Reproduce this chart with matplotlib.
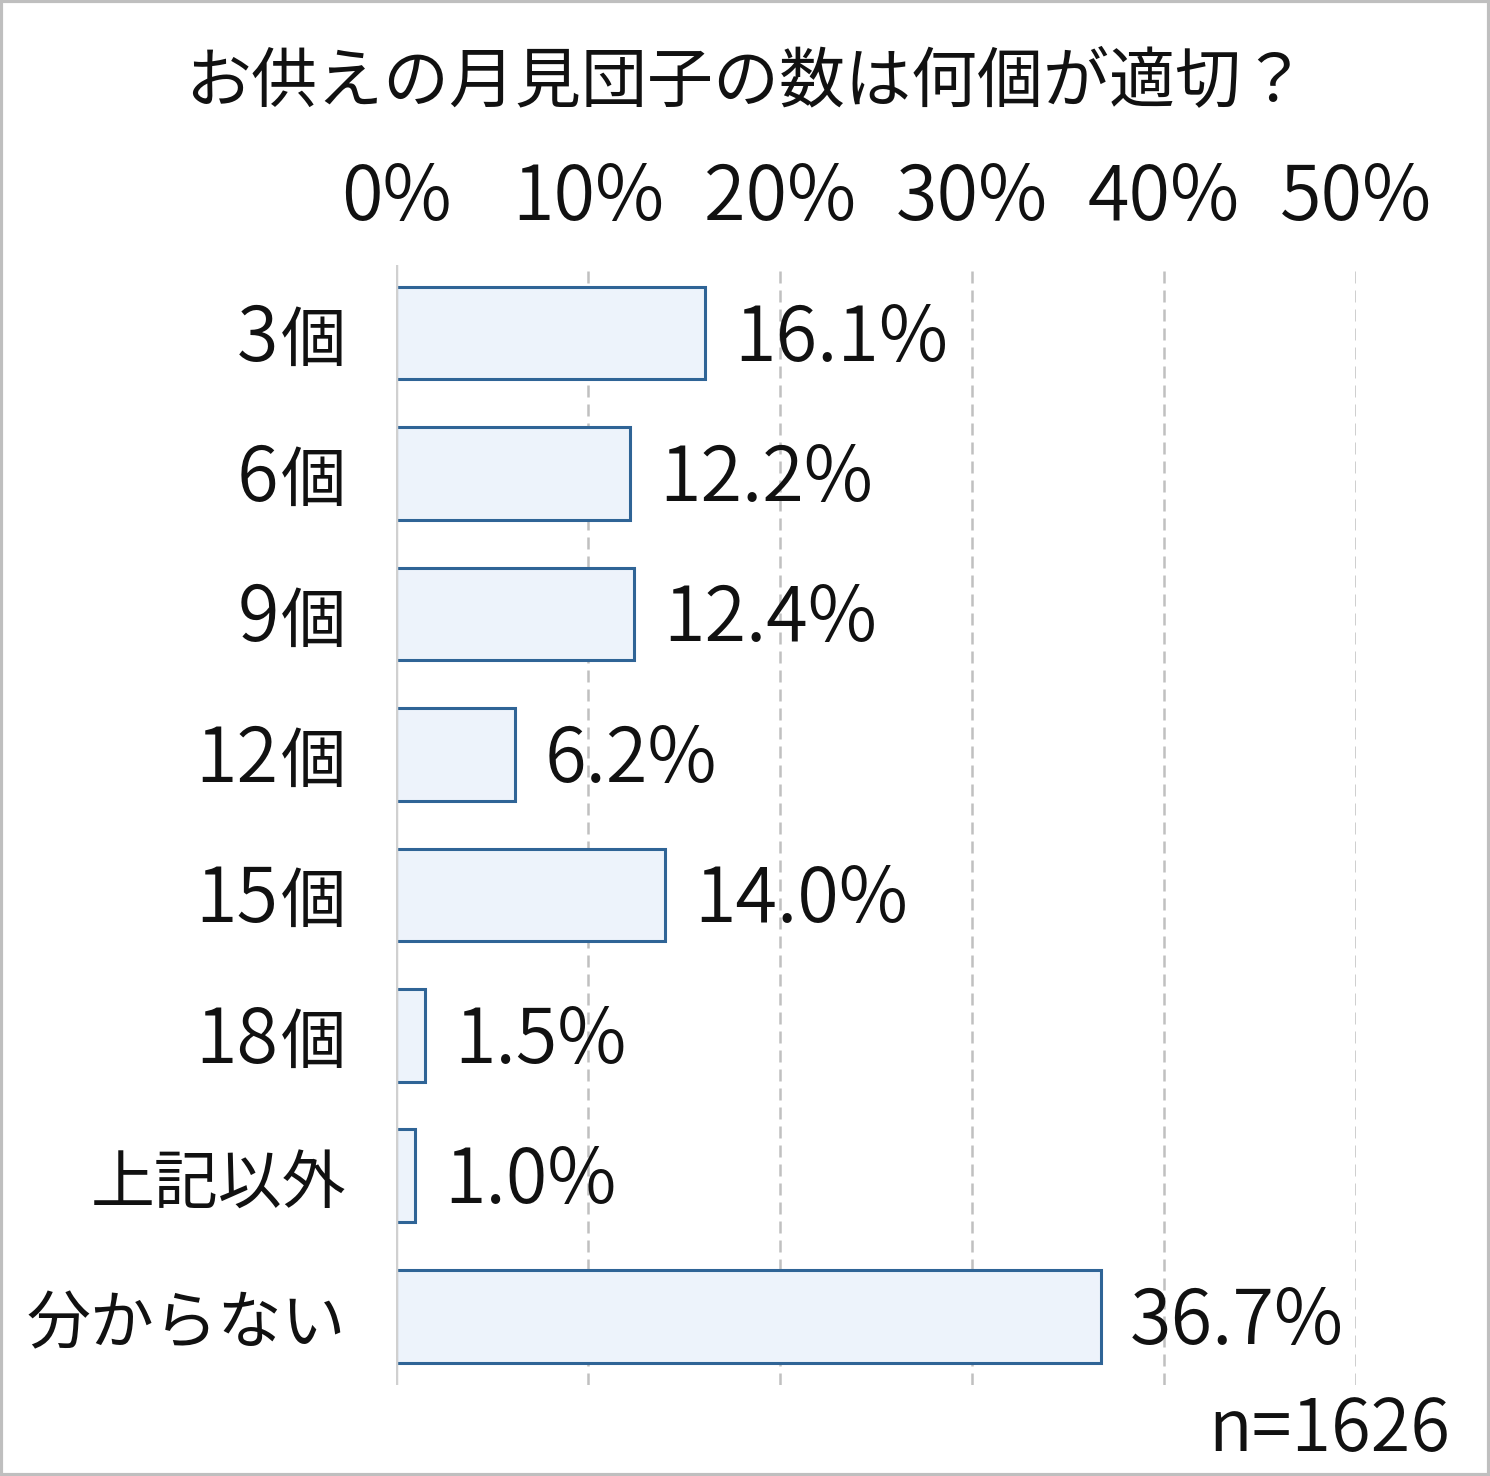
import matplotlib.pyplot as plt
from matplotlib.patches import Rectangle

plt.rcParams['font.family'] = ['Noto Sans CJK JP', 'DejaVu Sans']

# データ
categories = ['3個', '6個', '9個', '12個', '15個', '18個', '上記以外', '分からない']
values = [16.1, 12.2, 12.4, 6.2, 14.0, 1.5, 1.0, 36.7]
ticks = [0, 10, 20, 30, 40, 50]
title = 'お供えの月見団子の数は何個が適切？'
note = 'n=1626'

NUM_SIZE = 54.5  # 数字のフォントサイズ
KANJI_SIZE = 47  # 漢字・かなのフォントサイズ
BASE = -19.8     # 棒の中心からベースラインまでのずれ (pt)
NUM_W = 350      # 数字は少し細め
TXT_W = 'normal'

fig = plt.figure(figsize=(14.9, 14.76), dpi=100)
ax = fig.add_axes([396 / 1490, 1 - 1385 / 1476, 960 / 1490, 1120 / 1476])

y = list(range(len(categories)))
ax.barh(y, values, height=0.66, color='#EDF3FB', edgecolor='#2F6496', linewidth=2.2, zorder=3)

# 値ラベル
for yi, v in zip(y, values):
    ax.annotate(f'{v:.1f}%', xy=(v, yi), xytext=(21, BASE), textcoords='offset points',
                va='baseline', ha='left', fontsize=NUM_SIZE, fontweight=NUM_W,
                color='#111111', zorder=4)

# 項目ラベル (数字と「個」は大きさを分ける)
for yi, cat in zip(y, categories):
    if cat.endswith('個'):
        ax.annotate('個', xy=(0, yi), xycoords=('axes fraction', 'data'), xytext=(-36, BASE),
                    textcoords='offset points', ha='right', va='baseline',
                    fontsize=KANJI_SIZE, fontweight=TXT_W, color='#111111')
        ax.annotate(cat[:-1], xy=(0, yi), xycoords=('axes fraction', 'data'),
                    xytext=(-36 - KANJI_SIZE - 1.5, BASE), textcoords='offset points',
                    ha='right', va='baseline', fontsize=NUM_SIZE, fontweight=NUM_W,
                    color='#111111')
    else:
        ax.annotate(cat, xy=(0, yi), xycoords=('axes fraction', 'data'), xytext=(-36, BASE),
                    textcoords='offset points', ha='right', va='baseline',
                    fontsize=KANJI_SIZE - 1, fontweight=TXT_W, color='#111111')

# 目盛りラベル (上側)
for t in ticks:
    ax.annotate(f'{t}%', xy=(t, 1), xycoords=('data', 'axes fraction'), xytext=(0, 32.4),
                textcoords='offset points', ha='center', va='baseline',
                fontsize=NUM_SIZE, fontweight=NUM_W, color='#111111')

ax.set_xlim(0, 50)
ax.set_ylim(len(categories) - 0.51, -0.485)
ax.set_xticks([])
ax.set_yticks([])

for t in ticks[1:]:
    ax.axvline(t, color='#C0C0C0', linestyle=(0, (4.8, 2.8)), linewidth=1.8, zorder=1)
ax.axvline(0, color='#D0D0D0', linewidth=2.5, zorder=4)

for s in ax.spines.values():
    s.set_visible(False)

fig.text(0.5 + 1 / 1490, 1 - 82 / 1476, title, ha='center', va='center',
         fontsize=47.5, fontweight=TXT_W, color='#111111')
fig.text(1450 / 1490, 1 - 1451 / 1476, note, ha='right', va='baseline',
         fontsize=52, fontweight=NUM_W, color='#111111')

fig.patches.append(Rectangle((0.001, 0.001), 0.998, 0.998, transform=fig.transFigure,
                             fill=False, edgecolor='#BFBFBF', linewidth=3))

fig.savefig('out.png', dpi=100)
